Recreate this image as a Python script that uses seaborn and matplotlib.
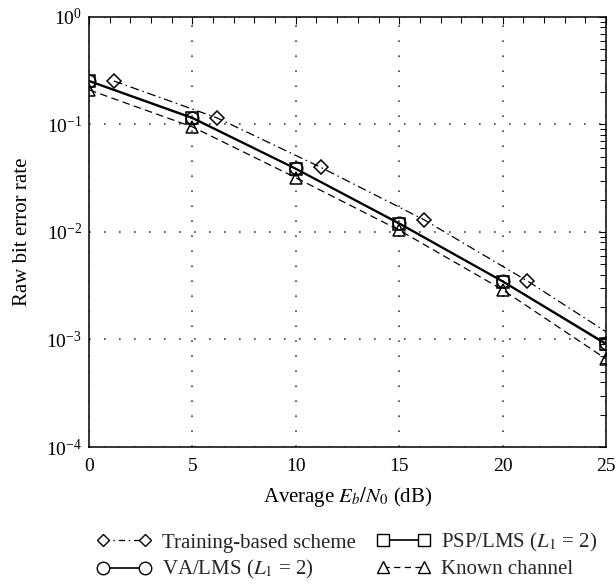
import numpy as np
import matplotlib
matplotlib.use("Agg")
import matplotlib.pyplot as plt
from matplotlib.lines import Line2D
import seaborn as sns
from matplotlib.ticker import LogLocator, MultipleLocator, NullFormatter

# Eb/N0 (dB) sample points
snr = [0, 5, 10, 15, 20, 25]
snr_train = [1.2, 6.2, 11.2, 16.2, 21.2, 25]

# Raw bit error rates
ber_train = [0.254, 0.115, 0.040, 0.0130, 0.0035, 0.00118]
ber_va = [0.256, 0.116, 0.039, 0.0121, 0.0035, 0.00092]
ber_psp = [0.252, 0.114, 0.0385, 0.0119, 0.00345, 0.00090]
ber_known = [0.210, 0.095, 0.032, 0.0104, 0.0029, 0.00066]

labels = ["Training-based scheme", r"VA/LMS ($L_1$ = 2)",
          r"PSP/LMS ($L_1$ = 2)", "Known channel"]

sns.set_theme(style="white")
plt.rcParams["font.family"] = ["Liberation Serif", "DejaVu Serif"]
plt.rcParams["mathtext.fontset"] = "stix"

fig = plt.figure(figsize=(6.16, 5.86), dpi=100)
ax = fig.add_axes([0.1445, 0.2372, 0.8393, 0.7338])

common = dict(color="black", markerfacecolor="none", markeredgecolor="black",
              markeredgewidth=1.1, ax=ax, legend=False)

dash_train = [7, 3, 1.2, 3]
dash_known = [6, 3.5]

sns.lineplot(x=snr_train, y=ber_train, linestyle="-.",
             marker="D", markersize=7, markevery=[0, 1, 2, 3, 4],
             linewidth=0.9, **common)
ax.lines[-1].set_dashes(dash_train)
sns.lineplot(x=snr, y=ber_va, linestyle="-", marker="o", markersize=9,
             linewidth=1.2, **common)
sns.lineplot(x=snr, y=ber_psp, linestyle="-", marker="s", markersize=8,
             linewidth=1.2, **common)
sns.lineplot(x=snr, y=ber_known, linestyle="--", marker="^", markersize=9,
             linewidth=0.9, **common)
ax.lines[-1].set_dashes(dash_known)

ax.set_yscale("log")
ax.set_xlim(0, 25)
ax.set_ylim(1e-4, 1)
ax.xaxis.set_major_locator(MultipleLocator(5))
ax.xaxis.set_minor_locator(MultipleLocator(1))
ax.yaxis.set_major_locator(LogLocator(base=10, numticks=10))
ax.yaxis.set_minor_locator(LogLocator(base=10, subs=np.arange(2, 10), numticks=10))
ax.yaxis.set_minor_formatter(NullFormatter())

ax.tick_params(which="both", direction="in", top=True, right=True,
               colors="black", labelsize=14)
ax.tick_params(which="major", length=5, width=0.8)
ax.tick_params(which="minor", length=4, width=0.7)
ax.tick_params(axis="x", pad=8)
ax.tick_params(axis="y", pad=5)

for s in ax.spines.values():
    s.set_color("black")
    s.set_linewidth(1.1)

ax.grid(True, which="major", linestyle=(0, (1, 8)), color="black",
        linewidth=1.2, alpha=0.75)

ax.set_xlabel(r"Average $E_b/N_0$ (dB)", fontsize=15, color="black", labelpad=7)
ax.set_ylabel("Raw bit error rate", fontsize=15, color="black", labelpad=10)

# Legend keys with white-filled markers so the connecting line stops at the edges
handles = [
    Line2D([], [], color="black", linewidth=0.9, dashes=[5, 3, 1.2, 3],
           marker="D", markersize=6.5, markerfacecolor="white",
           markeredgecolor="black"),
    Line2D([], [], color="black", linewidth=1.2, linestyle="-", marker="o",
           markersize=9, markerfacecolor="white", markeredgecolor="black"),
    Line2D([], [], color="black", linewidth=1.2, linestyle="-", marker="s",
           markersize=8, markerfacecolor="white", markeredgecolor="black"),
    Line2D([], [], color="black", linewidth=0.9, dashes=[5, 3.5], marker="^",
           markersize=9, markerfacecolor="white", markeredgecolor="black"),
]
leg = fig.legend(handles, labels, loc="upper center", ncol=2,
                 bbox_to_anchor=(0.5635, 1 - 531 / 586), frameon=False,
                 fontsize=15, numpoints=2, handlelength=2.6,
                 handletextpad=0.5, columnspacing=1.0, labelspacing=0.28,
                 borderaxespad=0, borderpad=0)

fig.savefig("out.png", dpi=100)
